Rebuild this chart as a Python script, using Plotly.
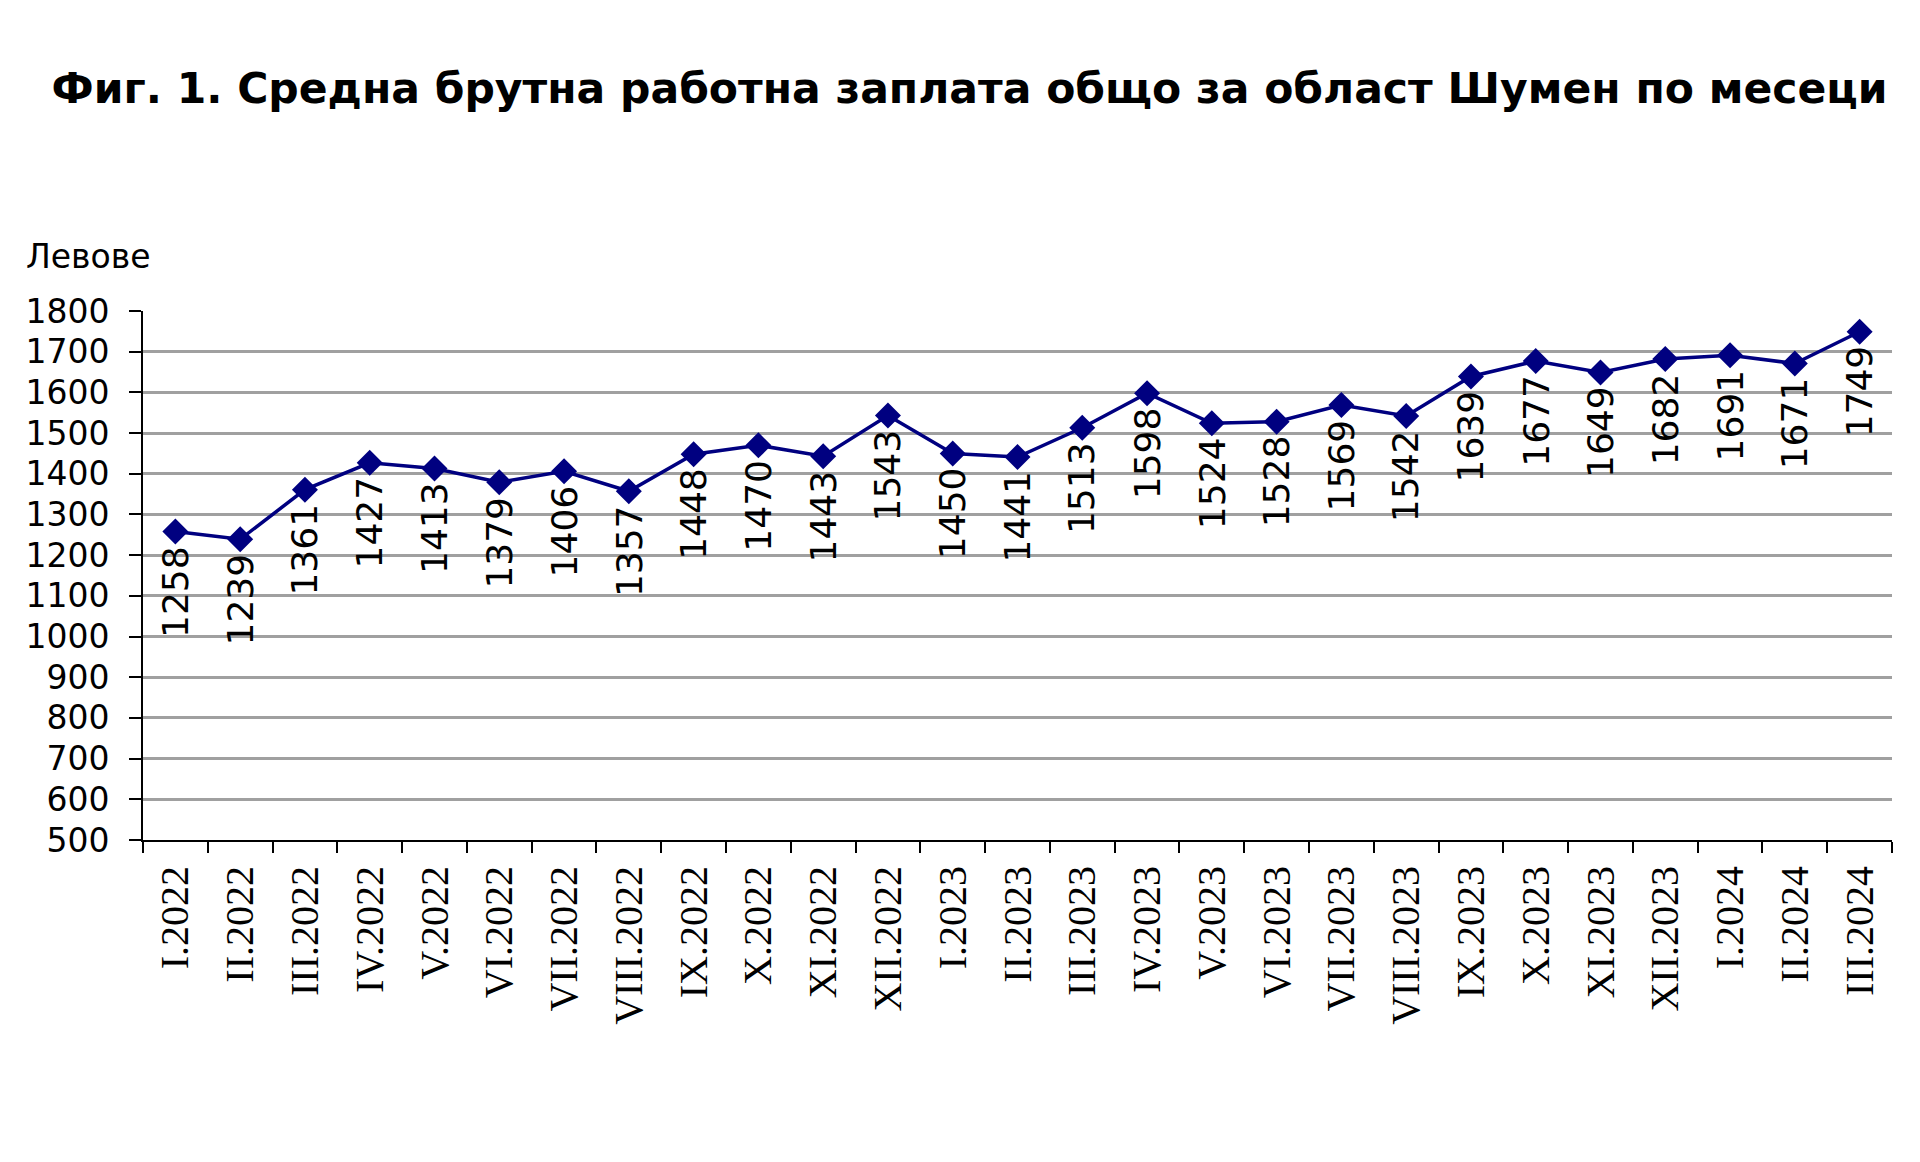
import plotly.graph_objects as go

categories = ["I.2022", "II.2022", "III.2022", "IV.2022", "V.2022", "VI.2022",
              "VII.2022", "VIII.2022", "IX.2022", "X.2022", "XI.2022", "XII.2022",
              "I.2023", "II.2023", "III.2023", "IV.2023", "V.2023", "VI.2023",
              "VII.2023", "VIII.2023", "IX.2023", "X.2023", "XI.2023", "XII.2023",
              "I.2024", "II.2024", "III.2024"]
values = [1258, 1239, 1361, 1427, 1413, 1379, 1406, 1357, 1448, 1470, 1443, 1543,
          1450, 1441, 1513, 1598, 1524, 1528, 1569, 1542, 1639, 1677, 1649, 1682,
          1691, 1671, 1749]
y_ticks = list(range(500, 1801, 100))

title_text = "Фиг. 1. Средна брутна работна заплата общо за област Шумен по месеци"
y_unit = "Левове"

NAVY = "#000080"

W, H = 1920, 1162
ml, mr, mt, mb = 143, 28, 311, 322
pw, ph = W - ml - mr, H - mt - mb

fig = go.Figure()
fig.add_trace(go.Scatter(
    x=categories, y=values, mode="lines+markers",
    line=dict(color=NAVY, width=3.5),
    marker=dict(symbol="diamond", size=20, color=NAVY),
    hoverinfo="skip", showlegend=False,
))

for c, v in zip(categories, values):
    fig.add_annotation(
        x=c, y=v, xref="x", yref="y", text=str(v), showarrow=False,
        textangle=-90, yanchor="top", xanchor="center", yshift=-12,
        font=dict(family="DejaVu Sans", size=36, color="black"),
    )

fig.add_annotation(
    x=(24 - ml) / pw, y=(H - mb - 257) / ph, xref="paper", yref="paper",
    text=y_unit, showarrow=False, xanchor="left", yanchor="middle",
    font=dict(family="DejaVu Sans", size=33, color="black"),
)

fig.update_layout(
    width=W, height=H,
    margin=dict(l=ml, r=mr, t=mt, b=mb, pad=0),
    paper_bgcolor="white", plot_bgcolor="white",
    title=dict(text="<b>" + title_text + "</b>", x=0.505, xref="container",
               xanchor="center", y=1 - 88 / H, yanchor="middle", yref="container",
               font=dict(family="DejaVu Sans", size=42.5, color="black")),
    xaxis=dict(
        type="category", tickson="boundaries", ticks="outside", ticklen=11,
        tickwidth=2, tickcolor="black", tickangle=-90,
        showline=True, linecolor="black", linewidth=2, showgrid=False,
        tickfont=dict(family="Liberation Serif", size=40, color="black"),
        ticklabelstandoff=8,
        range=[-0.5, len(categories) - 0.5], fixedrange=True,
    ),
    yaxis=dict(
        range=[500, 1800], tickvals=y_ticks, ticks="outside", ticklen=12,
        tickwidth=2, tickcolor="black",
        showline=True, linecolor="black", linewidth=2,
        showgrid=True, gridcolor="#a0a0a0", gridwidth=2.5, zeroline=False,
        tickfont=dict(family="DejaVu Sans", size=33, color="black"),
        ticklabelstandoff=13, fixedrange=True,
    ),
)

fig.write_html("out.html")
